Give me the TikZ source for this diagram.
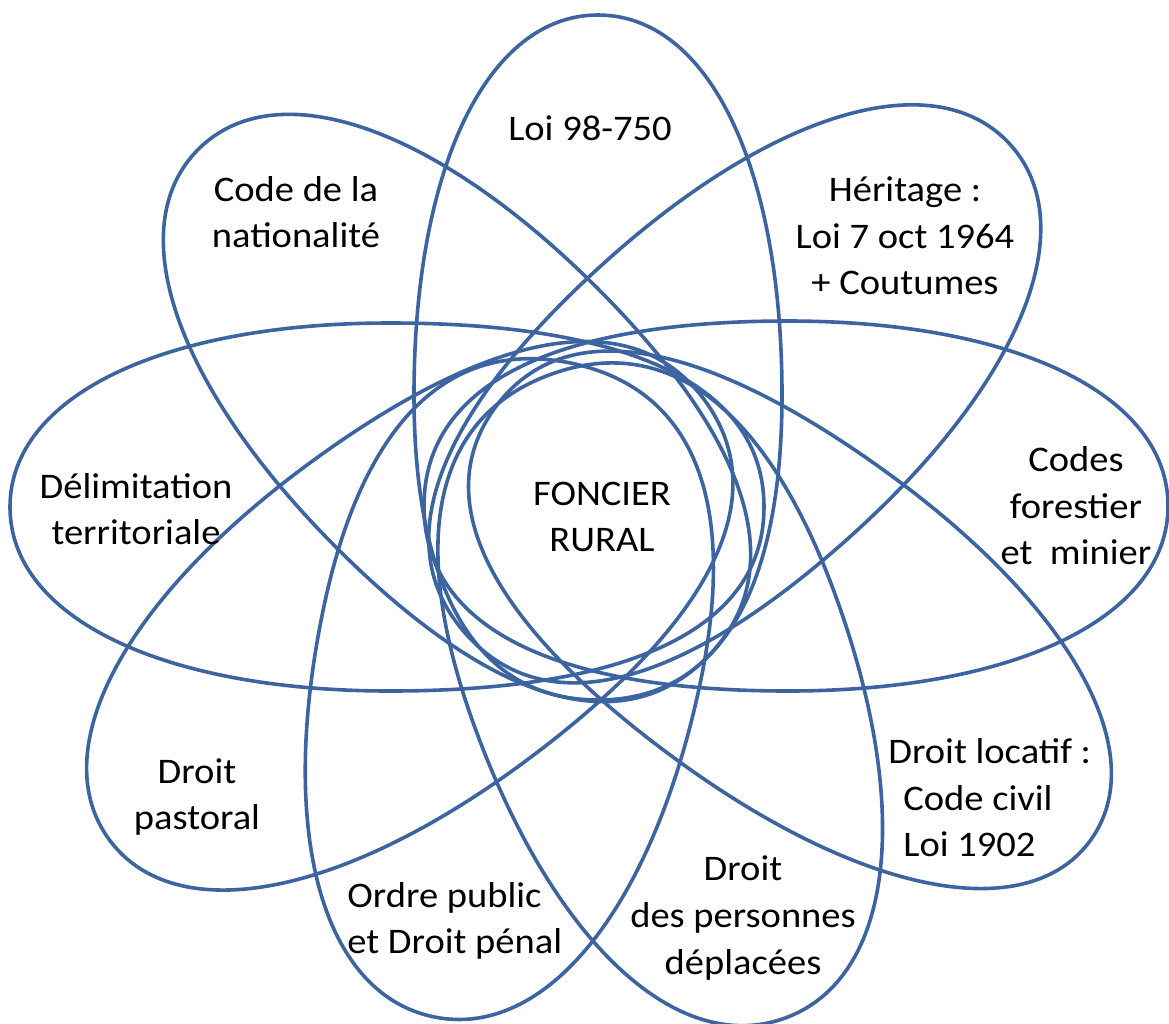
\documentclass[tikz,border=0pt]{standalone}
\usepackage{fontspec}
\setmainfont{Carlito}[FakeStretch=1.07]
\usepackage{tikz}
\definecolor{petalblue}{RGB}{60,100,160}
\tikzset{petal line/.style={draw=petalblue, line width=1.8pt}}
\tikzset{pics/.cd, petal/.style args={#1:#2:#3}{code={
% outer half (#1), inner half (#2), half width (#3)
\draw [petal line] (#1,0) .. controls (#1,0.6*#3) and (0.6*#1,#3) .. (0,#3)
  .. controls (-0.62*#2,#3) and (-#2,0.68*#3) .. (-#2,0)
  .. controls (-#2,-0.68*#3) and (-0.62*#2,-#3) .. (0,-#3)
  .. controls (0.6*#1,-#3) and (#1,-0.6*#3) .. cycle;
}}}

\begin{document}
\begin{tikzpicture}[x=0.5pt, y=-0.5pt,
    label text/.style={font=\fontsize{18pt}{23.3pt}\selectfont, inner sep=0pt, align=center}]
    \useasboundingbox (0,0) rectangle (1169,1024);

    % the nine petals
    \foreach \wx/\wy/\ang/\inner/\half in {598/395/90/305/184, 390/507/180/374/184,
      788/506/0/364/185, 467/418/135/339/184, 728/399/42/352/184, 783/617/-36/356/178,
      655/661/-70/305/192, 512/645/-102/288/192, 415/614/-143.5/360/184}
      \pic [rotate=\ang] at (\wx,\wy) {petal=380:\inner:\half};

    % labels
    \node [label text] (loi) at (590,128) {Loi 98-750};
    \node [label text] (nationalite) at (296,212) {Code de la\\nationalité};
    \node [label text] (heritage) at (905,236) {Héritage :\\Loi 7 oct 1964\\+ Coutumes};
    \node [label text] (delimitation) at (136,509) {Délimitation\\territoriale};
    \node [label text] (foncier) at (602,517) {FONCIER\\RURAL};
    \node [label text] (codes) at (1076,506) {Codes\\forestier\\et\ \ minier};
    \node [label text, align=left, anchor=west] (locatif) at (888,798)
      {Droit locatif :\\\hspace*{7.5pt}Code civil\\\hspace*{7.5pt}Loi 1902};
    \node [label text] (personnes) at (743,918) {Droit\\des personnes\\déplacées};
    \node [label text, align=left, anchor=west] (ordre) at (347,921) {Ordre public\\et Droit pénal};
    \node [label text] (pastoral) at (197,797) {Droit\\pastoral};
\end{tikzpicture}
\end{document}
